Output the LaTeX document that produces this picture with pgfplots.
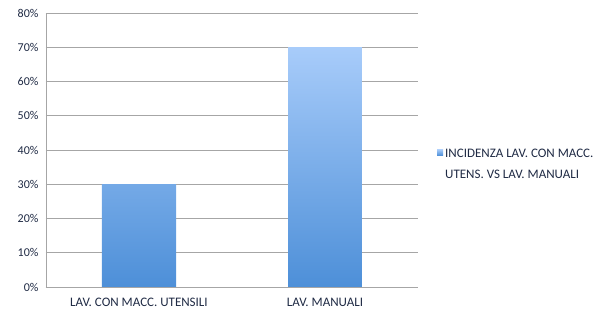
\documentclass[border=0pt]{standalone}
\usepackage{pgfplots}
\pgfplotsset{compat=1.18}
\usepackage{fontspec}
\setmainfont{Carlito}
\definecolor{bartop}{HTML}{A8CCFA}
\definecolor{barbot}{HTML}{4D8FD8}
\definecolor{gridc}{HTML}{A6A6A6}
\definecolor{txt}{HTML}{1F2A44}
\begin{document}
\begin{tikzpicture}
\path[use as bounding box] (-46pt,-28pt) rectangle (567pt,287pt);
\begin{axis}[
  at={(0,0)}, anchor=south west,
  scale only axis, width=372pt, height=274pt,
  xmin=-0.5, xmax=1.5, ymin=0, ymax=80,
  ybar, bar width=74pt,
  xtick={0,1}, xticklabels={LAV. CON MACC. UTENSILI, LAV. MANUALI},
  extra x ticks={-0.5,0.5,1.5}, extra x tick labels={},
  extra x tick style={major tick length=4pt, tick style={gridc, line width=0.8pt}, xtick pos=bottom, xticklabel=\empty},
  major x tick style={draw=none},
  ytick={0,10,...,80},
  yticklabel={\pgfmathprintnumber{\tick}\%},
  /pgf/number format/assume math mode=true,
  ymajorgrids, grid style={gridc, line width=0.8pt},
  axis x line*=bottom, axis y line*=left,
  axis line style={gridc, line width=0.9pt},
  ytick style={gridc, line width=0.8pt}, major tick length=4pt,
  y axis line style={-}, x axis line style={-},
  tick label style={font=\fontsize{12.5}{14}\selectfont, text=txt},
  xticklabel style={font=\fontsize{13}{14}\selectfont, yshift=-4pt},
  yticklabel style={font=\fontsize{12}{14}\selectfont, xshift=-4pt},
  legend style={draw=none, fill=none, at={(1,0.447)}, anchor=west, xshift=18pt,
    font=\fontsize{13}{21}\selectfont, text=txt, cells={align=left},
    inner sep=1pt},
  legend image code/.code={\fill[barbot!75!bartop] (0pt,9pt) rectangle (6pt,15pt);},
]
\addplot[draw=none, top color=bartop, bottom color=barbot, shading=axis] coordinates {(0,30) (1,70)};
\addlegendentry{INCIDENZA LAV. CON MACC.\\UTENS. VS LAV. MANUALI}
\end{axis}
\end{tikzpicture}
\end{document}
